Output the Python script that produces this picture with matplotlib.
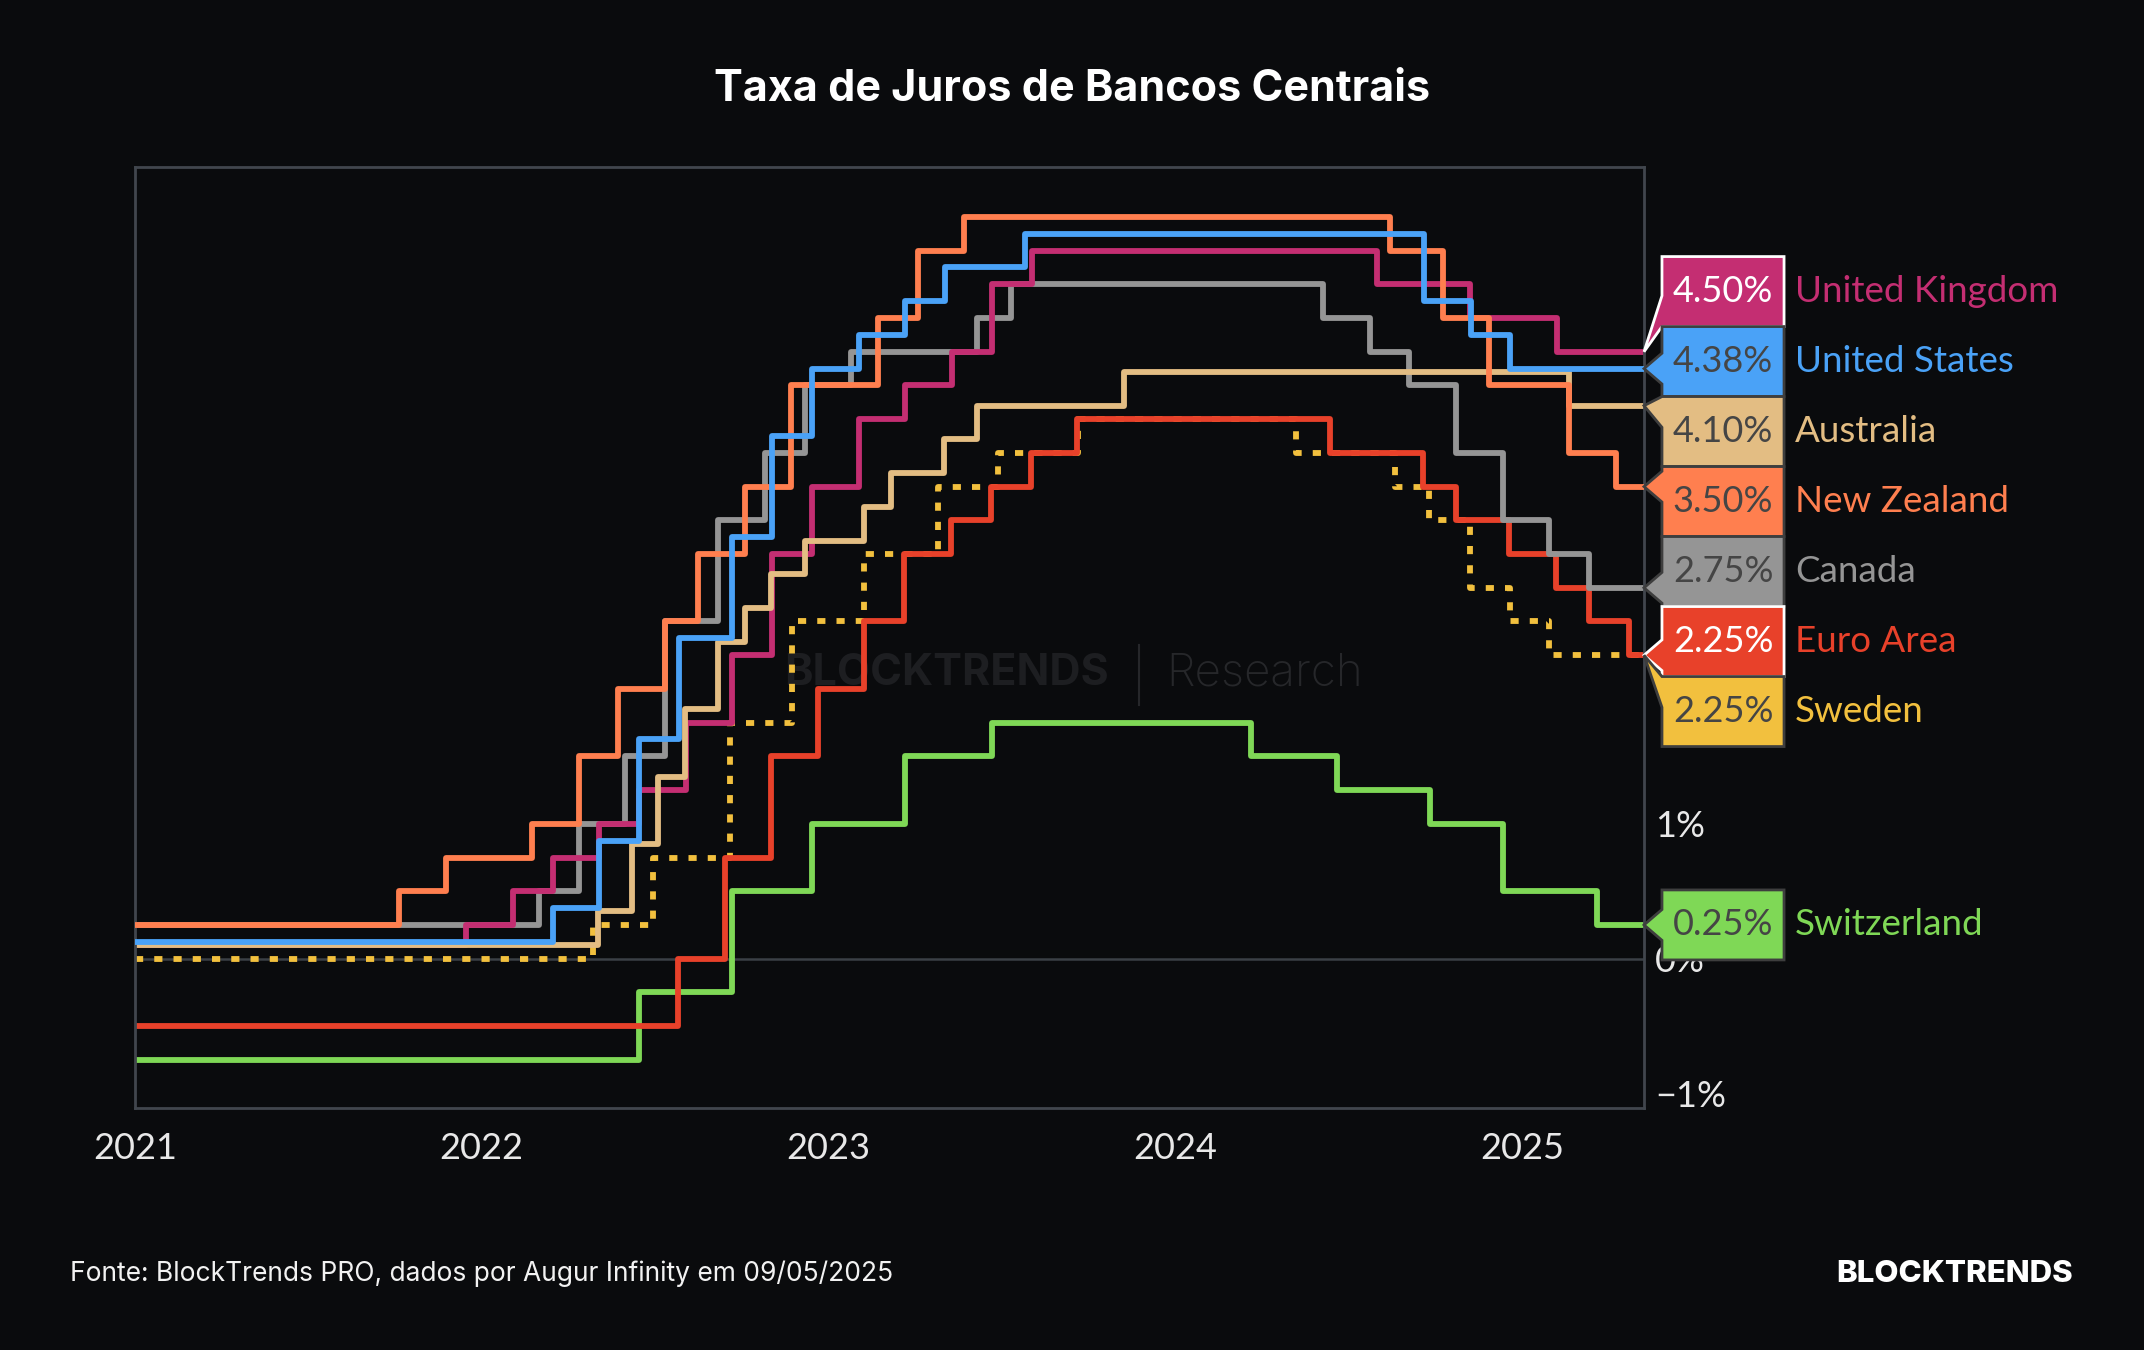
import matplotlib
matplotlib.use("Agg")
import matplotlib.pyplot as plt
from matplotlib.patches import Polygon
import numpy as np

# Datas de mudança de taxa e taxa vigente (%)
uk_dates = ["2021-01-01", "2021-12-16", "2022-02-03", "2022-03-17", "2022-05-05", "2022-06-16",
            "2022-08-04", "2022-09-22", "2022-11-03", "2022-12-15", "2023-02-02", "2023-03-23",
            "2023-05-11", "2023-06-22", "2023-08-03", "2024-08-01", "2024-11-07", "2025-02-06"]
uk_rates = [0.10, 0.25, 0.50, 0.75, 1.00, 1.25, 1.75, 2.25, 3.00, 3.50, 4.00, 4.25,
            4.50, 5.00, 5.25, 5.00, 4.75, 4.50]

us_dates = ["2021-01-01", "2022-03-17", "2022-05-05", "2022-06-16", "2022-07-28", "2022-09-22",
            "2022-11-03", "2022-12-15", "2023-02-02", "2023-03-23", "2023-05-04", "2023-07-27",
            "2024-09-19", "2024-11-08", "2024-12-19"]
us_rates = [0.125, 0.375, 0.875, 1.625, 2.375, 3.125, 3.875, 4.375, 4.625, 4.875, 5.125, 5.375,
            4.875, 4.625, 4.375]

au_dates = ["2021-01-01", "2022-05-04", "2022-06-08", "2022-07-06", "2022-08-03", "2022-09-07",
            "2022-10-05", "2022-11-02", "2022-12-07", "2023-02-08", "2023-03-08", "2023-05-03",
            "2023-06-07", "2023-11-08", "2025-02-19"]
au_rates = [0.10, 0.35, 0.85, 1.35, 1.85, 2.35, 2.60, 2.85, 3.10, 3.35, 3.60, 3.85,
            4.10, 4.35, 4.10]

nz_dates = ["2021-01-01", "2021-10-06", "2021-11-24", "2022-02-23", "2022-04-13", "2022-05-25",
            "2022-07-13", "2022-08-17", "2022-10-05", "2022-11-23", "2023-02-22", "2023-04-05",
            "2023-05-24", "2024-08-14", "2024-10-09", "2024-11-27", "2025-02-19", "2025-04-09"]
nz_rates = [0.25, 0.50, 0.75, 1.00, 1.50, 2.00, 2.50, 3.00, 3.50, 4.25, 4.75, 5.25,
            5.50, 5.25, 4.75, 4.25, 3.75, 3.50]

ca_dates = ["2021-01-01", "2022-03-02", "2022-04-13", "2022-06-01", "2022-07-13", "2022-09-07",
            "2022-10-26", "2022-12-07", "2023-01-25", "2023-06-07", "2023-07-12", "2024-06-05",
            "2024-07-24", "2024-09-04", "2024-10-23", "2024-12-11", "2025-01-29", "2025-03-12"]
ca_rates = [0.25, 0.50, 1.00, 1.50, 2.50, 3.25, 3.75, 4.25, 4.50, 4.75, 5.00, 4.75,
            4.50, 4.25, 3.75, 3.25, 3.00, 2.75]

ea_dates = ["2021-01-01", "2022-07-27", "2022-09-14", "2022-11-02", "2022-12-21", "2023-02-08",
            "2023-03-22", "2023-05-10", "2023-06-21", "2023-08-02", "2023-09-20", "2024-06-12",
            "2024-09-18", "2024-10-23", "2024-12-18", "2025-02-05", "2025-03-12", "2025-04-23"]
ea_rates = [-0.50, 0.00, 0.75, 1.50, 2.00, 2.50, 3.00, 3.25, 3.50, 3.75, 4.00, 3.75,
            3.50, 3.25, 3.00, 2.75, 2.50, 2.25]

se_dates = ["2021-01-01", "2022-04-28", "2022-06-30", "2022-09-20", "2022-11-24", "2023-02-08",
            "2023-04-26", "2023-06-29", "2023-09-21", "2024-05-08", "2024-08-20", "2024-09-25",
            "2024-11-07", "2024-12-19", "2025-01-29"]
se_rates = [0.00, 0.25, 0.75, 1.75, 2.50, 3.00, 3.50, 3.75, 4.00, 3.75, 3.50, 3.25,
            2.75, 2.50, 2.25]

ch_dates = ["2021-01-01", "2022-06-16", "2022-09-22", "2022-12-15", "2023-03-23", "2023-06-22",
            "2024-03-21", "2024-06-20", "2024-09-26", "2024-12-12", "2025-03-20"]
ch_rates = [-0.75, -0.25, 0.50, 1.00, 1.50, 1.75, 1.50, 1.25, 1.00, 0.50, 0.25]

end_date = "2025-05-09"
year_ticks = [2021, 2022, 2023, 2024, 2025]
pct_ticks = [-1, 0, 1]

BG = "#0a0b0d"
COLORS = {
    "United Kingdom": "#c42e72",
    "United States":  "#4aa2f7",
    "Australia":      "#e3bd83",
    "New Zealand":    "#ff7f4f",
    "Canada":         "#959595",
    "Euro Area":      "#e8412a",
    "Sweden":         "#f2c03e",
    "Switzerland":    "#7fd856",
}

# (nome, datas, taxas, texto claro?) na ordem da legenda
series = [
    ("United Kingdom", uk_dates, uk_rates, True),
    ("United States",  us_dates, us_rates, False),
    ("Australia",      au_dates, au_rates, False),
    ("New Zealand",    nz_dates, nz_rates, False),
    ("Canada",         ca_dates, ca_rates, False),
    ("Euro Area",      ea_dates, ea_rates, True),
    ("Sweden",         se_dates, se_rates, False),
    ("Switzerland",    ch_dates, ch_rates, False),
]
draw_order = ["Switzerland", "Sweden", "Euro Area", "Canada", "United Kingdom",
              "Australia", "New Zealand", "United States"]

LABEL_FONT = "Lato"
TITLE_FONT = "Inter"

fig = plt.figure(figsize=(21.44, 13.5), dpi=100, facecolor=BG)
ax = fig.add_axes([0.0630, 0.1793, 0.7038, 0.6970], facecolor=BG)

YMIN, YMAX = -1.107, 5.87
ax.set_ylim(YMIN, YMAX)
ax.set_xlim(np.datetime64("2021-01-01"), np.datetime64(end_date))

ax.axhline(0, color="#3b4046", lw=1.8, zorder=1)

by_name = {s[0]: s for s in series}
for i, name in enumerate(draw_order):
    _, d, r, _ = by_name[name]
    x = np.array(d + [end_date], dtype="datetime64[D]")
    y = np.array(r + [r[-1]])
    kw = dict(color=COLORS[name], lw=4.2, where="post", zorder=2 + i * 0.1)
    if name == "Sweden":
        kw["linestyle"] = (0, (1.4, 1.9))
        kw["dash_capstyle"] = "butt"
    ax.step(x, y, **kw)

for sp in ax.spines.values():
    sp.set_color("#41464d")
    sp.set_linewidth(2.0)

ax.set_xticks([np.datetime64(f"{y}-01-01") for y in year_ticks])
ax.set_xticklabels([str(y) for y in year_ticks])
ax.yaxis.tick_right()
ax.set_yticks(pct_ticks)
ax.set_yticklabels([f"\u2212{abs(v)}%" if v < 0 else f"{v}%" for v in pct_ticks])
ax.tick_params(axis="x", length=0, pad=17, labelsize=26, labelcolor="#e8e8e8")
ax.tick_params(axis="y", length=0, pad=8, labelsize=26, labelcolor="#e8e8e8")
for lab in ax.get_xticklabels() + ax.get_yticklabels():
    lab.set_fontfamily(LABEL_FONT)

# marca d'agua
ax.text(0.6455, 0.4612, "BLOCKTRENDS", transform=ax.transAxes, ha="right", va="center",
        fontsize=31, fontweight="bold", color="#1d1e21", family=TITLE_FONT, zorder=0.5)
ax.text(0.6832, 0.4612, "Research", transform=ax.transAxes, ha="left", va="center",
        fontsize=33, fontweight="light", color="#26272a", family=TITLE_FONT, zorder=0.5)
ax.plot([0.6653, 0.6653], [0.4283, 0.4920], transform=ax.transAxes, color="#26272a",
        lw=1.5, zorder=0.5)

# rotulos a direita: empilha as caixas sem sobreposicao
def to_frac(v):
    return (v - YMIN) / (YMAX - YMIN)

box_h = 70 / 941
items = [(name, r[-1], light) for name, d, r, light in series]
targets = [to_frac(v) for _, v, _ in items]

clusters = [[i] for i in range(len(items))]
changed = True
while changed:
    changed = False
    pos = {}
    for c in clusters:
        center = np.mean([targets[i] for i in c])
        n = len(c)
        for k, i in enumerate(c):
            pos[i] = center + box_h * ((n - 1) / 2 - k)
    for j in range(len(clusters) - 1):
        a, b = clusters[j], clusters[j + 1]
        if pos[a[-1]] - pos[b[0]] < box_h:
            clusters[j] = a + b
            del clusters[j + 1]
            changed = True
            break

x_tip, x0, x1 = 1.0, 1.0119, 1.0928
for i, (name, v, light) in enumerate(items):
    yc, t = pos[i], targets[i]
    y0, y1 = yc - box_h / 2, yc + box_h / 2
    bw = 0.22 * box_h
    bc = min(max(t, y0 + bw), y1 - bw)
    verts = [(x0, y0), (x1, y0), (x1, y1), (x0, y1), (x0, bc + bw), (x_tip, t), (x0, bc - bw)]
    edge = "white" if light else "#3e3e3e"
    ax.add_patch(Polygon(verts, closed=True, transform=ax.transAxes, clip_on=False,
                         facecolor=COLORS[name], edgecolor=edge, lw=2.0, zorder=10 + i * 0.1))
    ax.text((x0 + x1) / 2, yc, f"{v:.2f}%", transform=ax.transAxes, ha="center", va="center",
            fontsize=26, color="white" if light else "#454545", family=LABEL_FONT, zorder=12)
    ax.text(1.1001, yc, name, transform=ax.transAxes, ha="left", va="center",
            fontsize=26.5, color=COLORS[name], family=LABEL_FONT, zorder=12)

fig.text(0.5, 0.9335, "Taxa de Juros de Bancos Centrais", ha="center", va="center",
         fontsize=31, fontweight="bold", color="white", family=TITLE_FONT)
fig.text(0.0326, 0.0565, "Fonte: BlockTrends PRO, dados por Augur Infinity em 09/05/2025",
         ha="left", va="center", fontsize=19, color="#f2f2f2", family=TITLE_FONT)
fig.text(0.9669, 0.0560, "BLOCKTRENDS", ha="right", va="center", fontsize=22.5,
         fontweight="heavy", color="white", family=TITLE_FONT)

fig.savefig("out.png", dpi=100, facecolor=BG)
